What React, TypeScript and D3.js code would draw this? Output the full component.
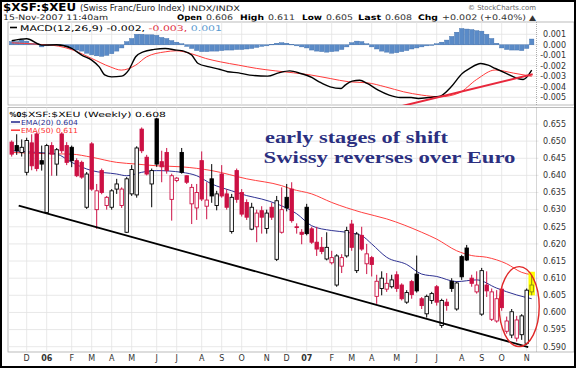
import React from "react";
import * as d3 from "d3";

const W = 576;
const H = 368;

// Weekly candles, first week = Mon 14-Nov-2005
const opens = [
  0.6497, 0.6487, 0.6467, 0.6409, 0.6495, 0.6521, 0.6443, 0.6292, 0.6487, 0.6433,
  0.6521, 0.6487, 0.6482, 0.6443, 0.6438, 0.6307, 0.6492, 0.6300, 0.6414, 0.6312,
  0.6307, 0.6360, 0.6312, 0.6234, 0.6346, 0.6343, 0.6535, 0.6453, 0.6375, 0.6565,
  0.6440, 0.6467, 0.6330, 0.6385, 0.6467, 0.6399, 0.6317, 0.6305, 0.6443, 0.6310,
  0.6390, 0.6312, 0.6404, 0.6346, 0.6236, 0.6414, 0.6350, 0.6321, 0.6243, 0.6250,
  0.6297, 0.6245, 0.6307, 0.6155, 0.6234, 0.6336, 0.6360, 0.6250, 0.6234, 0.6307,
  0.6244, 0.6205, 0.6190, 0.6156, 0.6145, 0.6080, 0.6135, 0.6165, 0.6258, 0.6122,
  0.6225, 0.6142, 0.6160, 0.6047, 0.6070, 0.6068, 0.6075, 0.6110, 0.6080, 0.6030,
  0.6090, 0.6112, 0.6040, 0.5996, 0.6035, 0.6075, 0.5962, 0.6030, 0.6091, 0.6010,
  0.6163, 0.6188, 0.6100, 0.6060, 0.5995, 0.6080, 0.5980, 0.5975, 0.6068, 0.5945,
  0.5934, 0.5925, 0.5935, 0.5910, 0.6060,
];
const highs = [
  0.6502, 0.6520, 0.6505, 0.6510, 0.6520, 0.6525, 0.6487, 0.6492, 0.6497, 0.6480,
  0.6525, 0.6497, 0.6487, 0.6450, 0.6443, 0.6410, 0.6497, 0.6375, 0.6420, 0.6340,
  0.6360, 0.6390, 0.6365, 0.6395, 0.6430, 0.6485, 0.6540, 0.6460, 0.6420, 0.6568,
  0.6472, 0.6480, 0.6405, 0.6395, 0.6480, 0.6400, 0.6375, 0.6375, 0.6470, 0.6380,
  0.6433, 0.6355, 0.6430, 0.6360, 0.6346, 0.6420, 0.6360, 0.6330, 0.6320, 0.6300,
  0.6310, 0.6300, 0.6320, 0.6340, 0.6365, 0.6375, 0.6380, 0.6260, 0.6243, 0.6317,
  0.6250, 0.6250, 0.6220, 0.6234, 0.6180, 0.6170, 0.6170, 0.6250, 0.6270, 0.6235,
  0.6250, 0.6200, 0.6165, 0.6110, 0.6120, 0.6115, 0.6110, 0.6120, 0.6085, 0.6065,
  0.6095, 0.6166, 0.6045, 0.6052, 0.6060, 0.6080, 0.6040, 0.6040, 0.6100, 0.6090,
  0.6168, 0.6197, 0.6110, 0.6120, 0.6130, 0.6120, 0.6070, 0.6065, 0.6075, 0.5988,
  0.6010, 0.5990, 0.5995, 0.6070, 0.6110,
];
const lows = [
  0.6455, 0.6460, 0.6455, 0.6400, 0.6415, 0.6412, 0.6414, 0.6288, 0.6399, 0.6399,
  0.6465, 0.6430, 0.6424, 0.6395, 0.6390, 0.6302, 0.6355, 0.6244, 0.6345, 0.6300,
  0.6300, 0.6346, 0.6305, 0.6232, 0.6340, 0.6335, 0.6465, 0.6400, 0.6307, 0.6425,
  0.6380, 0.6405, 0.6268, 0.6380, 0.6405, 0.6375, 0.6258, 0.6270, 0.6325, 0.6272,
  0.6320, 0.6298, 0.6335, 0.6300, 0.6230, 0.6320, 0.6280, 0.6270, 0.6240, 0.6205,
  0.6230, 0.6230, 0.6270, 0.6150, 0.6230, 0.6295, 0.6262, 0.6230, 0.6199, 0.6225,
  0.6200, 0.6165, 0.6170, 0.6152, 0.6140, 0.6075, 0.6115, 0.6160, 0.6180, 0.6115,
  0.6180, 0.6112, 0.6105, 0.6025, 0.6050, 0.6060, 0.6070, 0.6060, 0.6035, 0.6025,
  0.6040, 0.6058, 0.6010, 0.5985, 0.6025, 0.6020, 0.5955, 0.6005, 0.6060, 0.6005,
  0.6095, 0.6150, 0.6075, 0.6055, 0.5990, 0.6045, 0.5975, 0.5970, 0.6005, 0.5938,
  0.5925, 0.5915, 0.5920, 0.5905, 0.6050,
];
const closes = [
  0.6462, 0.6472, 0.6482, 0.6502, 0.6428, 0.6420, 0.6433, 0.6487, 0.6462, 0.6475,
  0.6472, 0.6438, 0.6443, 0.6399, 0.6395, 0.6404, 0.6360, 0.6355, 0.6350, 0.6336,
  0.6355, 0.6375, 0.6360, 0.6390, 0.6417, 0.6480, 0.6472, 0.6404, 0.6414, 0.6433,
  0.6425, 0.6414, 0.6399, 0.6392, 0.6409, 0.6380, 0.6365, 0.6350, 0.6331, 0.6328,
  0.6340, 0.6346, 0.6340, 0.6307, 0.6336, 0.6330, 0.6287, 0.6278, 0.6307, 0.6290,
  0.6278, 0.6290, 0.6278, 0.6326, 0.6300, 0.6305, 0.6268, 0.6248, 0.6228, 0.6230,
  0.6205, 0.6185, 0.6178, 0.6190, 0.6160, 0.6165, 0.6160, 0.6239, 0.6190, 0.6229,
  0.6185, 0.6171, 0.6140, 0.6091, 0.6100, 0.6085, 0.6095, 0.6070, 0.6040, 0.6058,
  0.6052, 0.6063, 0.6020, 0.6047, 0.6055, 0.6030, 0.6035, 0.6020, 0.6070, 0.6086,
  0.6104, 0.6153, 0.6085, 0.6080, 0.6122, 0.6063, 0.6060, 0.6040, 0.6014, 0.5975,
  0.6002, 0.5978, 0.5990, 0.6065, 0.6080,
];
const closeBeforeFirst = 0.648;

// moving averages: [week index, value]
const ema20: [number, number][] = [
  [0, 0.6472], [5, 0.6467], [9, 0.6462], [12, 0.6438], [16, 0.6414], [21, 0.6404],
  [23, 0.6399], [26, 0.6409], [29, 0.6414], [34, 0.6409], [37, 0.6399], [40, 0.6375],
  [44, 0.6355], [47, 0.6341], [50, 0.6331], [53, 0.6317], [57, 0.6288], [60, 0.6253],
  [64, 0.6239], [67, 0.6234], [70, 0.6224], [72, 0.62], [75, 0.6161], [79, 0.614],
  [82, 0.6112], [85, 0.6105], [89, 0.609], [93, 0.6095], [97, 0.6071], [101, 0.6051],
  [104, 0.604],
];
const ema50: [number, number][] = [
  [0, 0.6467], [5, 0.6464], [12, 0.6462], [16, 0.6453], [21, 0.6438], [25, 0.6433],
  [29, 0.6428], [34, 0.6425], [40, 0.6414], [47, 0.639], [54, 0.637], [56, 0.636],
  [60, 0.6346], [64, 0.6321], [70, 0.6292], [75, 0.6273], [82, 0.6234], [85, 0.6214],
  [89, 0.618], [92, 0.6166], [95, 0.6161], [99, 0.6142], [102, 0.6117], [104, 0.611],
];
const priceTrend: [number, number][] = [[1.4, 0.6312], [103.3, 0.5899]];

// MACD(12,26,9)
const macdLine: [number, number][] = [
  [0, 0.00038], [3, 0.00057], [6, -0.00003], [9, 0], [12, -0.00035], [14, -0.00098],
  [16, -0.00146], [17.5, -0.0021], [18.6, -0.00286], [20, -0.00305], [22, -0.00298],
  [23.4, -0.00241], [24.8, -0.00114], [26.3, -0.00067], [28.5, -0.00044], [30.7, -0.00035],
  [33, -0.00051], [34.4, -0.0006], [36, -0.00098], [37.3, -0.00178], [39.5, -0.0021],
  [41.7, -0.00235], [43.2, -0.00257], [45.4, -0.00267], [47.6, -0.00289], [51.2, -0.00298],
  [53.4, -0.00267], [55.6, -0.00248], [57.8, -0.00273], [60, -0.00311], [61.5, -0.00352],
  [63.7, -0.004], [65.9, -0.00416], [66.7, -0.00384], [68.1, -0.00346], [69.6, -0.00337],
  [71.1, -0.00368], [73.3, -0.00432], [75.5, -0.00479], [77.7, -0.00502], [79.9, -0.00502],
  [81.3, -0.00511], [83.5, -0.00502], [85.7, -0.00489], [87.9, -0.004], [90.1, -0.00273],
  [91.6, -0.00225], [93.8, -0.00178], [95.3, -0.00194], [96.7, -0.00225], [98.9, -0.00273],
  [101.2, -0.00321], [102.3, -0.0033], [104, -0.00241],
];
const signalLine: [number, number][] = [
  [0, 0.00019], [5, 0.00006], [9.4, -0.00013], [12.3, -0.00051], [16, -0.0013],
  [19.7, -0.0021], [21.9, -0.00241], [24.8, -0.00194], [27, -0.00114], [30.7, -0.00067],
  [32.9, -0.00057], [35.8, -0.00083], [38.8, -0.0013], [41.7, -0.00162], [45.4, -0.00194],
  [49, -0.00225], [52.7, -0.00248], [56.4, -0.00267], [60, -0.00289], [63.7, -0.00321],
  [67.4, -0.00352], [71.1, -0.00362], [74.7, -0.004], [78.4, -0.00448], [82, -0.00479],
  [85.7, -0.00495], [89.4, -0.0046], [93, -0.0033], [96.7, -0.0024], [100.4, -0.0027],
  [104, -0.003],
];
// histogram, thousandths, one per week
const histogram = [
  0.3, 0.3, 0.45, 0.35, 0.15, 0.1, -0.2, -0.1, 0.0, 0.0,
  -0.1, -0.2, -0.35, -0.5, -0.6, -0.8, -0.95, -1.05, -1.1, -1.0,
  -0.85, -0.6, -0.3, 0.3, 0.6, 1.0, 1.0, 0.95, 0.95, 0.9,
  0.7, 0.6, 0.4, 0.25, 0.1, -0.15, -0.35, -0.55, -0.65, -0.65,
  -0.6, -0.6, -0.55, -0.5, -0.5, -0.45, -0.45, -0.4, -0.35, -0.25,
  -0.15, -0.1, 0.05, 0.15, 0.2, 0.15, 0.05, -0.1, -0.2, -0.3,
  -0.5, -0.6, -0.65, -0.7, -0.65, -0.6, -0.45, -0.2, 0.2, 0.35,
  0.3, 0.1, -0.2, -0.4, -0.6, -0.7, -0.8, -0.75, -0.65, -0.55,
  -0.4, -0.3, -0.2, -0.1, 0.0, 0.1, 0.25, 0.45, 0.8, 1.2,
  1.55, 1.5, 1.45, 1.35, 1.3, 1.0, 0.6, 0.15, -0.3, -0.45,
  -0.5, -0.5, -0.55, -0.35, 0.55,
];
const macdTrend: [number, number][] = [[76.6, -0.006], [104.2, -0.0028]];

const priceTicks = [0.59, 0.595, 0.6, 0.605, 0.61, 0.615, 0.62, 0.625, 0.63, 0.635, 0.64, 0.645, 0.65, 0.655];
const macdTicks = [0.001, 0, -0.001, -0.002, -0.003, -0.004, -0.005];
const monthLabels = ["D", "06", "F", "M", "A", "M", "J", "J", "A", "S", "O", "N", "D", "07", "F", "M", "A", "M", "J", "J", "A", "S", "O", "N"];

// quote line: [text, bold, x, width]
const quoteTokens: [string, boolean, number, number][] = [
  ["Open", true, 177, 25],
  ["0.606", false, 206, 27],
  ["High", true, 240, 24],
  ["0.611", false, 268, 27],
  ["Low", true, 302, 20],
  ["0.605", false, 326, 27],
  ["Last", true, 358, 23],
  ["0.608", false, 385, 27],
  ["Chg", true, 418, 20],
  ["+0.002 (+0.40%)", false, 442, 84],
  ["▲", false, 529, 7],
];

const SANS = "'DejaVu Sans', Verdana, sans-serif";
const SERIF = "'Liberation Serif', 'Times New Roman', serif";

export default function App() {
  const n = closes.length;
  const start = new Date(2005, 10, 14);
  const dates = closes.map((_, i) => d3.timeDay.offset(start, i * 7));
  const monthIdx = dates
    .map((d, i) => (i > 0 && d.getMonth() !== dates[i - 1].getMonth() ? i : -1))
    .filter((i) => i >= 0);

  const L = 8;
  const R = 536.5;
  const macdTop = 22;
  const macdBot = 105;
  const mainTop = 107.5;
  const mainBot = 352;

  const x = d3.scaleLinear().domain([0, n - 1]).range([11.7, 531.7]);
  const y = d3.scaleLinear().domain([0.59, 0.655]).range([346.7, 124]);
  const ym = d3.scaleLinear().domain([-0.005, 0.001]).range([97.3, 34.3]);

  const priceLine = d3
    .line<[number, number]>()
    .x((d) => x(d[0]))
    .y((d) => y(d[1]))
    .curve(d3.curveMonotoneX);
  const macdPath = d3
    .line<[number, number]>()
    .x((d) => x(d[0]))
    .y((d) => ym(d[1]))
    .curve(d3.curveMonotoneX);
  const straight = (pts: [number, number][], ys: (v: number) => number) =>
    d3.line<[number, number]>().x((d) => x(d[0])).y((d) => ys(d[1]))(pts) || "";

  const RED = "#cc1144";
  const last = n - 1;

  return (
    <div style={{ position: "absolute", left: 0, top: 0 }}>
      <svg width={W} height={H} style={{ display: "block", background: "#fff" }}>
        <defs>
          <clipPath id="macdClip">
            <rect x={L} y={macdTop} width={R - L} height={macdBot - macdTop} />
          </clipPath>
          <clipPath id="mainClip">
            <rect x={L} y={mainTop} width={R - L} height={mainBot - mainTop} />
          </clipPath>
        </defs>
        <rect x={0} y={0} width={W} height={H} fill="#fff" />

        {/* header */}
        <text x={3} y={10.5} fontFamily={SANS} fontSize={10.5} fontWeight="bold" fill="#000" textLength={73} lengthAdjust="spacingAndGlyphs">$XSF:$XEU</text>
        <text x={80} y={10.5} fontFamily={SANS} fontSize={8.3} fill="#222" textLength={105} lengthAdjust="spacingAndGlyphs">(Swiss Franc/Euro Index)</text>
        <text x={188} y={10.5} fontFamily={SANS} fontSize={7.4} fill="#222" textLength={52} lengthAdjust="spacingAndGlyphs">INDX/INDX</text>
        <text x={3} y={19.8} fontFamily={SANS} fontSize={7.6} fill="#222" textLength={105} lengthAdjust="spacingAndGlyphs">15-Nov-2007 11:40am</text>
        {quoteTokens.map(([t, b, tx, tw]) => (
          <text
            key={"q" + tx}
            x={tx}
            y={19.8}
            fontFamily={SANS}
            fontSize={7.6}
            fontWeight={b ? "bold" : "normal"}
            fill={b ? "#000" : "#333"}
            textLength={tw}
            lengthAdjust="spacingAndGlyphs"
          >
            {t}
          </text>
        ))}
        <text x={468} y={9.5} fontFamily={SANS} fontSize={7} fill="#666" textLength={68} lengthAdjust="spacingAndGlyphs">© StockCharts.com</text>

        {/* MACD panel */}
        <rect x={L} y={macdTop} width={W - 2 - L} height={macdBot - macdTop} fill="#fff" stroke="#aaa" strokeWidth={0.8} />
        {macdTicks.map((t) => (
          <line key={"mg" + t} x1={L} x2={R + 2} y1={ym(t)} y2={ym(t)} stroke="#e2e2e2" strokeWidth={0.8} />
        ))}
        {monthIdx.map((i) => (
          <line key={"mv" + i} x1={x(i)} x2={x(i)} y1={macdTop} y2={macdBot} stroke="#e2e2e2" strokeWidth={0.8} />
        ))}
        <g clipPath="url(#macdClip)">
          {histogram.map((v, i) => {
            const y0 = ym(0);
            const y1 = ym(v / 1000);
            return (
              <rect
                key={"h" + i}
                x={x(i) - 2.2}
                width={4.4}
                y={Math.min(y0, y1)}
                height={Math.max(0.6, Math.abs(y1 - y0))}
                fill="#5a8bc8"
                stroke="#3a6aa8"
                strokeWidth={0.4}
              />
            );
          })}
          <path d={macdPath(signalLine) || ""} fill="none" stroke="#ff3b3b" strokeWidth={1} />
          <path d={macdPath(macdLine) || ""} fill="none" stroke="#000" strokeWidth={1.4} />
          <path d={straight(macdTrend, ym)} fill="none" stroke="#e8283c" strokeWidth={2} />
        </g>
        <line x1={R} x2={R} y1={macdTop} y2={macdBot} stroke="#999" strokeWidth={0.8} strokeDasharray="1,1" />
        {macdTicks.map((t) => (
          <text key={"ml" + t} x={566} y={ym(t)} dy="0.35em" textAnchor="end" fontFamily={SANS} fontSize={8} fill="#333">
            {t.toFixed(3).replace("-0.000", "0.000")}
          </text>
        ))}
        <line x1={10} x2={17} y1={27.5} y2={27.5} stroke="#000" strokeWidth={1.6} />
        <text x={20} y={30.5} fontFamily={SANS} fontSize={7.8} fill="#000" textLength={202} lengthAdjust="spacingAndGlyphs">
          MACD(12,26,9) -0.002, <tspan fill="#e03040">-0.003,</tspan> <tspan fill="#5a9ad0">0.001</tspan>
        </text>

        {/* main panel */}
        <rect x={L} y={mainTop} width={W - 2 - L} height={mainBot - mainTop} fill="#fff" stroke="#aaa" strokeWidth={0.8} />
        {priceTicks.map((t) => (
          <line key={"pg" + t} x1={L} x2={R + 2} y1={y(t)} y2={y(t)} stroke="#e2e2e2" strokeWidth={0.8} />
        ))}
        {monthIdx.map((i) => (
          <line key={"pv" + i} x1={x(i)} x2={x(i)} y1={mainTop} y2={mainBot} stroke="#e2e2e2" strokeWidth={0.8} />
        ))}
        <line x1={R} x2={R} y1={mainTop} y2={mainBot} stroke="#999" strokeWidth={0.8} strokeDasharray="1,1" />
        {priceTicks.map((t) => (
          <text key={"pl" + t} x={566} y={y(t)} dy="0.35em" textAnchor="end" fontFamily={SANS} fontSize={8} fill="#333">
            {t.toFixed(3)}
          </text>
        ))}

        {/* annotation text */}
        <text x={265} y={142.5} fontFamily={SERIF} fontWeight="bold" fontSize={17.5} fill="#2b2f80" textLength={183} lengthAdjust="spacingAndGlyphs">
          early stages of shift
        </text>
        <text x={263.5} y={163} fontFamily={SERIF} fontWeight="bold" fontSize={17.5} fill="#2b2f80" textLength={252} lengthAdjust="spacingAndGlyphs">
          Swissy reverses over Euro
        </text>

        <g clipPath="url(#mainClip)">
          <path d={priceLine(ema50) || ""} fill="none" stroke="#ff4040" strokeWidth={1} />
          <path d={priceLine(ema20) || ""} fill="none" stroke="#2e3192" strokeWidth={1} />
          {/* highlight of the current week */}
          <rect x={x(last) - 3.2} width={6.4} y={y(highs[last]) - 3} height={y(lows[last]) - y(highs[last]) + 3} fill="#ffff00" />
          {closes.map((c, i) => {
            const o = opens[i];
            const prev = i === 0 ? closeBeforeFirst : closes[i - 1];
            const isLast = i === last;
            const col = isLast ? "#8a8a10" : c >= prev ? "#000" : RED;
            const filled = c < o;
            const top = y(Math.max(o, c));
            const bot = y(Math.min(o, c));
            const cx = x(i);
            return (
              <g key={"c" + i}>
                <line x1={cx} x2={cx} y1={y(highs[i])} y2={y(lows[i])} stroke={col} strokeWidth={1} />
                <rect
                  x={cx - 1.7}
                  width={3.4}
                  y={top}
                  height={Math.max(0.8, bot - top)}
                  fill={filled ? col : isLast ? "#ffff00" : "#fff"}
                  stroke={col}
                  strokeWidth={0.9}
                />
              </g>
            );
          })}
          <path d={straight(priceTrend, y)} fill="none" stroke="#000" strokeWidth={1.8} />
        </g>
        <ellipse cx={x(101.5)} cy={y(0.6017)} rx={20} ry={40} fill="none" stroke="#e02828" strokeWidth={1.4} />

        {/* legend */}
        <text x={9.5} y={116.5} fontFamily={SANS} fontSize={7} fontWeight="bold" fill="#000">%0</text>
        <text x={21} y={116.5} fontFamily={SANS} fontSize={7.2} fill="#000" textLength={145} lengthAdjust="spacingAndGlyphs">
          $XSF:$XEU (Weekly) 0.608
        </text>
        <line x1={11} x2={20} y1={122} y2={122} stroke="#2e3192" strokeWidth={1.6} />
        <text x={21} y={124.8} fontFamily={SANS} fontSize={7} fill="#2e3192" textLength={57} lengthAdjust="spacingAndGlyphs">EMA(20) 0.604</text>
        <line x1={11} x2={20} y1={130.2} y2={130.2} stroke="#ff4040" strokeWidth={1.6} />
        <text x={21} y={133} fontFamily={SANS} fontSize={7} fill="#ff3030" textLength={57} lengthAdjust="spacingAndGlyphs">EMA(50) 0.611</text>

        {/* x axis labels */}
        {monthIdx.map((i, j) => (
          <text
            key={"xl" + i}
            x={x(i)}
            y={360.5}
            textAnchor="middle"
            fontFamily={SANS}
            fontSize={8}
            fontWeight={monthLabels[j].length > 1 ? "bold" : "normal"}
            fill="#333"
          >
            {monthLabels[j]}
          </text>
        ))}

        {/* outer frame */}
        <rect x={1} y={1} width={W - 2} height={H - 2} fill="none" stroke="#000" strokeWidth={2} />
      </svg>
    </div>
  );
}
